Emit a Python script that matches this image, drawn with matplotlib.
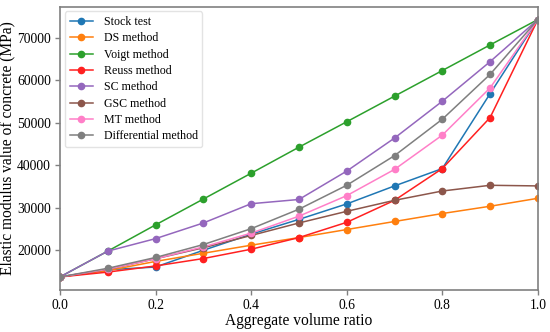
import matplotlib
matplotlib.use("Agg")
import matplotlib.pyplot as plt

plt.rcParams['font.family'] = ['Liberation Serif', 'DejaVu Serif']

# aggregate volume ratio
ratio = [0.0, 0.1, 0.2, 0.3, 0.4, 0.5, 0.6, 0.7, 0.8, 0.9, 1.0]

# elastic modulus values (MPa)
stock_test = [13600, 15300, 15950, 19900, 23700, 27200, 30850, 35100, 39200, 56900, 74400]
ds_method = [13600, 15100, 17270, 19200, 21100, 22900, 24800, 26700, 28580, 30300, 32180]
voigt_method = [13600, 19700, 25900, 32000, 38100, 44250, 50250, 56300, 62350, 68400, 74400]
reuss_method = [13600, 14750, 16200, 17950, 20150, 22900, 26500, 31700, 39200, 51250, 74400]
sc_method = [13600, 19700, 22650, 26350, 30900, 31900, 38600, 46400, 55100, 64450, 74400]
gsc_method = [13600, 15400, 17900, 20500, 23400, 26350, 29100, 31700, 33900, 35250, 35100]
mt_method = [13600, 15450, 17900, 20700, 23950, 27950, 32800, 39000, 47100, 58250, 74400]
diff_method = [13600, 15650, 18200, 21250, 25000, 29600, 35250, 42250, 50850, 61450, 74400]

series = [
    ("Stock test", stock_test, "#1f77b4"),
    ("DS method", ds_method, "#ff7f0e"),
    ("Voigt method", voigt_method, "#2ca02c"),
    ("Reuss method", reuss_method, "#ff2020"),
    ("SC method", sc_method, "#9467bd"),
    ("GSC method", gsc_method, "#8c564b"),
    ("MT method", mt_method, "#ff7fc8"),
    ("Differential method", diff_method, "#7f7f7f"),
]

fig = plt.figure(figsize=(5.5, 3.32), dpi=100)
ax = fig.add_axes([0.109, 0.127, 0.869, 0.853])

for name, vals, col in series:
    ax.plot(ratio, vals, marker='o', markersize=4.5, linewidth=1.1, color=col, label=name)

ax.set_xlim(0, 1)
ax.set_xticks([0.0, 0.2, 0.4, 0.6, 0.8, 1.0])
ax.set_yticks([20000, 30000, 40000, 50000, 60000, 70000])
ax.set_xlabel("Aggregate volume ratio", fontsize=11.2, labelpad=1)
ax.set_ylabel("Elastic modulus value of concrete (MPa)", fontsize=11.2, labelpad=1)
ax.tick_params(labelsize=9.8, color='#808080', length=3.5, width=1, pad=3)
for sp in ax.spines.values():
    sp.set_color('#808080')
    sp.set_linewidth(1.2)

ax.legend(loc='upper left', fontsize=8.6, handlelength=2.0, handletextpad=0.85,
          labelspacing=0.36, borderaxespad=0.4, framealpha=0.8, edgecolor='#dddddd')

fig.savefig("out.png", dpi=100)
